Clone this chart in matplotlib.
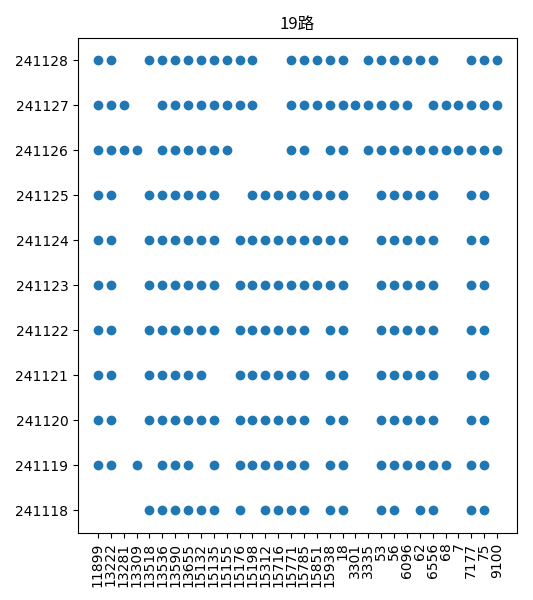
import matplotlib
matplotlib.use('Agg')
import matplotlib.pyplot as plt

plt.rcParams['font.family'] = ['DejaVu Sans', 'Noto Sans CJK SC']

stops = ['11899', '13222', '13281', '13309', '13518', '13536', '13590', '13655',
         '15132', '15135', '15155', '15176', '15198', '15312', '15716', '15771',
         '15785', '15851', '15938', '18', '3301', '3335', '53', '56',
         '6096', '62', '6556', '68', '7', '7177', '75', '9100']
days = ['241118', '241119', '241120', '241121', '241122', '241123',
        '241124', '241125', '241126', '241127', '241128']

# stop indices seen on each day
seen_241118 = [4, 5, 6, 7, 8, 9, 11, 13, 14, 15, 16, 18, 19, 22, 23, 25, 26, 29, 30]
seen_241119 = [0, 1, 3, 5, 6, 7, 9, 11, 12, 13, 14, 15, 16, 18, 19, 22, 23, 24, 25, 26, 27, 29, 30]
seen_241120 = [0, 1, 4, 5, 6, 7, 8, 9, 11, 12, 13, 14, 15, 16, 18, 19, 22, 23, 24, 25, 26, 29, 30]
seen_241121 = [0, 1, 4, 5, 6, 7, 8, 11, 12, 13, 14, 15, 16, 18, 19, 22, 23, 24, 25, 26, 29, 30]
seen_241122 = [0, 1, 4, 5, 6, 7, 8, 9, 11, 12, 13, 14, 15, 16, 18, 19, 22, 23, 24, 25, 26, 29, 30]
seen_241123 = [0, 1, 4, 5, 6, 7, 8, 9, 11, 12, 13, 14, 15, 16, 17, 18, 19, 22, 23, 24, 25, 26, 29, 30]
seen_241124 = [0, 1, 4, 5, 6, 7, 8, 9, 11, 12, 13, 14, 15, 16, 17, 18, 19, 22, 23, 24, 25, 26, 29, 30]
seen_241125 = [0, 1, 4, 5, 6, 7, 8, 9, 12, 13, 14, 15, 16, 17, 18, 19, 22, 23, 24, 25, 26, 29, 30]
seen_241126 = [0, 1, 2, 3, 5, 6, 7, 8, 9, 10, 15, 16, 18, 19, 21, 22, 23, 24, 25, 26, 27, 28, 29, 30, 31]
seen_241127 = [0, 1, 2, 5, 6, 7, 8, 9, 10, 11, 12, 15, 16, 17, 18, 19, 20, 21, 22, 23, 24,
               26, 27, 28, 29, 30, 31]
seen_241128 = [0, 1, 4, 5, 6, 7, 8, 9, 10, 11, 12, 15, 16, 17, 18, 19, 21, 22, 23, 24, 25, 26,
               29, 30, 31]

seen = [seen_241118, seen_241119, seen_241120, seen_241121, seen_241122, seen_241123,
        seen_241124, seen_241125, seen_241126, seen_241127, seen_241128]

xs = []
ys = []
for day, idx in zip(days, seen):
    for i in idx:
        xs.append(stops[i])
        ys.append(day)

fig = plt.figure(figsize=(5.33, 6), dpi=100)
ax = fig.add_axes([0.1463, 0.112, 0.8237, 0.825])
ax.xaxis.update_units(stops)
ax.yaxis.update_units(days)
ax.scatter(xs, ys)
ax.set_title('19路', family=['Noto Sans CJK SC', 'DejaVu Sans'])
plt.xticks(rotation=90)
fig.savefig('out.png')
